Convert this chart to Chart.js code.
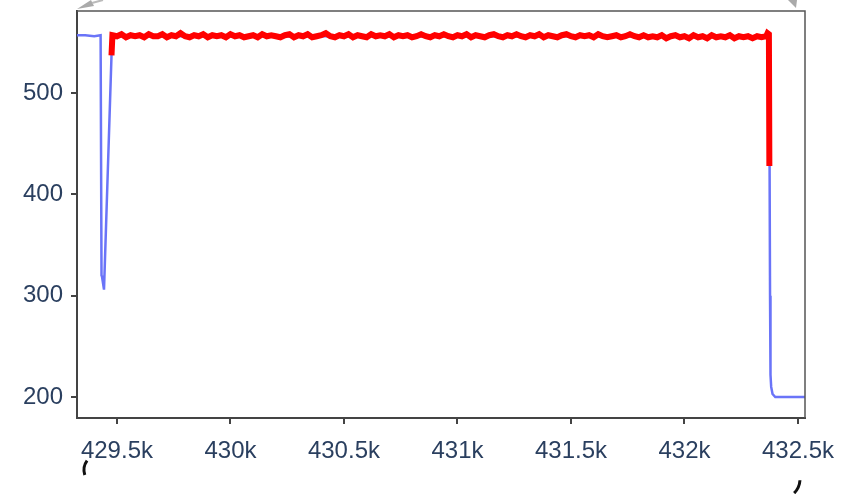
<!DOCTYPE html>
<html>
<head>
<meta charset="utf-8">
<script src="https://cdn.jsdelivr.net/npm/chart.js@4"></script>
<style>
  html, body { margin: 0; padding: 0; background: #fff; }
  #wrap { width: 843px; height: 494px; position: relative; }
</style>
</head>
<body>
<div id="wrap"><canvas id="chart"></canvas></div>
<script>
// blue trace (full record)
const blueX = [429324, 429360, 429400, 429428, 429432, 429434, 429443, 429476, 429480, 432370,
               432375, 432377, 432379, 432382, 432388, 432400, 432531];
const blueY = [557, 557, 556, 557, 320, 319, 306, 537, 556, 556,
               428, 300, 222, 210, 203, 200, 200];

// red trace (highlighted segment)
const redX = [429476,
  429480, 429500, 429520, 429540, 429560, 429580, 429600, 429620, 429640, 429660,
  429680, 429700, 429720, 429740, 429760, 429780, 429800, 429820, 429840, 429860,
  429880, 429900, 429920, 429940, 429960, 429980, 430000, 430020, 430040, 430060,
  430080, 430100, 430120, 430140, 430160, 430180, 430200, 430220, 430240, 430260,
  430280, 430300, 430320, 430340, 430360, 430380, 430400, 430420, 430440, 430460,
  430480, 430500, 430520, 430540, 430560, 430580, 430600, 430620, 430640, 430660,
  430680, 430700, 430720, 430740, 430760, 430780, 430800, 430820, 430840, 430860,
  430880, 430900, 430920, 430940, 430960, 430980, 431000, 431020, 431040, 431060,
  431080, 431100, 431120, 431140, 431160, 431180, 431200, 431220, 431240, 431260,
  431280, 431300, 431320, 431340, 431360, 431380, 431400, 431420, 431440, 431460,
  431480, 431500, 431520, 431540, 431560, 431580, 431600, 431620, 431640, 431660,
  431680, 431700, 431720, 431740, 431760, 431780, 431800, 431820, 431840, 431860,
  431880, 431900, 431920, 431940, 431960, 431980, 432000, 432020, 432040, 432060,
  432080, 432100, 432120, 432140, 432160, 432180, 432200, 432220, 432240, 432260,
  432280, 432300, 432320, 432340, 432360,
  432366, 432372, 432374];
const redY = [537,
  557, 556, 558, 555, 557, 556, 557, 555, 558, 556,
  556, 558, 555, 557, 556, 559, 556, 555, 557, 556,
  558, 555, 557, 556, 557, 555, 558, 556, 557, 555,
  556, 557, 555, 558, 556, 557, 556, 555, 557, 558,
  555, 557, 556, 558, 555, 556, 557, 559, 556, 555,
  557, 556, 558, 555, 557, 556, 555, 558, 556, 557,
  556, 558, 555, 557, 556, 557, 555, 556, 558, 556,
  555, 557, 556, 558, 556, 555, 557, 556, 558, 555,
  557, 556, 555, 557, 558, 556, 555, 557, 556, 558,
  556, 555, 557, 556, 558, 555, 557, 556, 555, 557,
  558, 556, 555, 557, 556, 557, 555, 558, 556, 555,
  556, 557, 555, 556, 558, 556, 555, 557, 555, 556,
  555, 557, 554, 556, 557, 555, 556, 554, 557, 555,
  556, 554, 557, 555, 556, 555, 557, 554, 556, 555,
  556, 554, 556, 555, 556,
  559, 558, 428];

const xTicks = [429500, 430000, 430500, 431000, 431500, 432000, 432500];
const xTickLabels = ['429.5k', '430k', '430.5k', '431k', '431.5k', '432k', '432.5k'];
const yTicks = [200, 300, 400, 500];
const yTickLabels = ['200', '300', '400', '500'];

const textColor = '#2a3f5f';
const axisColor = '#444';
const tickFont = { family: "'Liberation Sans', Arial, sans-serif", size: 24 };

function toPoints(xs, ys) {
    return xs.map((x, i) => ({ x: x, y: ys[i] }));
}

// frame on top/right + the small cut-off marks round the plot
const extras = {
    id: 'extras',
    afterDraw(chart) {
        const ctx = chart.ctx;
        const a = chart.chartArea;
        ctx.save();
        ctx.strokeStyle = '#555';
        ctx.lineWidth = 1.5;
        ctx.beginPath();
        ctx.moveTo(a.left, a.top);
        ctx.lineTo(a.right, a.top);
        ctx.lineTo(a.right, a.bottom);
        ctx.stroke();

        ctx.fillStyle = '#aaa';
        ctx.beginPath();
        ctx.moveTo(77, 9);
        ctx.lineTo(91, 0);
        ctx.lineTo(94, 6);
        ctx.closePath();
        ctx.fill();
        ctx.strokeStyle = '#bbb';
        ctx.lineWidth = 2;
        ctx.beginPath();
        ctx.moveTo(92, 3);
        ctx.lineTo(103, 0);
        ctx.stroke();

        ctx.beginPath();
        ctx.moveTo(788, 0);
        ctx.lineTo(797, 0);
        ctx.lineTo(796, 8);
        ctx.closePath();
        ctx.fill();

        ctx.strokeStyle = '#111';
        ctx.lineWidth = 3;
        ctx.beginPath();
        ctx.arc(100, 470, 16, Math.PI * 0.9, Math.PI * 1.2);
        ctx.stroke();
        ctx.beginPath();
        ctx.arc(780, 479, 20, Math.PI * 0.02, Math.PI * 0.25);
        ctx.stroke();
        ctx.restore();
    }
};

const ctx = document.getElementById('chart').getContext('2d');
const chart = new Chart(ctx, {
    type: 'line',
    data: {
        datasets: [
            {
                data: toPoints(redX, redY),
                borderColor: '#ff0000',
                borderWidth: 6,
                pointRadius: 0,
                tension: 0
            },
            {
                data: toPoints(blueX, blueY),
                borderColor: '#6a74f8',
                borderWidth: 2.5,
                pointRadius: 0,
                tension: 0
            }
        ]
    },
    options: {
        responsive: true,
        maintainAspectRatio: false,
        animation: false,
        layout: { padding: { left: 0, top: 11, right: 38, bottom: 0 } },
        plugins: {
            legend: { display: false },
            tooltip: { enabled: false }
        },
        scales: {
            x: {
                type: 'linear',
                min: 429324,
                max: 432531,
                afterBuildTicks: (scale) => { scale.ticks = xTicks.map(v => ({ value: v })); },
                afterFit: (scale) => { scale.height = 76; scale.paddingLeft = 0; scale.paddingRight = 0; },
                ticks: {
                    color: textColor,
                    font: tickFont,
                    padding: 13,
                    maxRotation: 0,
                    autoSkip: false,
                    callback: (v, i) => xTickLabels[i]
                },
                grid: { drawOnChartArea: false, tickLength: 6, color: axisColor, lineWidth: 2 },
                border: { display: true, color: axisColor, width: 2 }
            },
            y: {
                min: 179.3,
                max: 580.9,
                afterBuildTicks: (scale) => { scale.ticks = yTicks.map(v => ({ value: v })); },
                afterFit: (scale) => { scale.width = 77; scale.paddingTop = 0; scale.paddingBottom = 0; },
                ticks: {
                    color: textColor,
                    font: tickFont,
                    padding: 8,
                    callback: (v, i) => yTickLabels[i]
                },
                grid: { drawOnChartArea: false, tickLength: 6, color: axisColor, lineWidth: 2 },
                border: { display: true, color: axisColor, width: 2 }
            }
        }
    },
    plugins: [extras]
});
</script>
</body>
</html>
